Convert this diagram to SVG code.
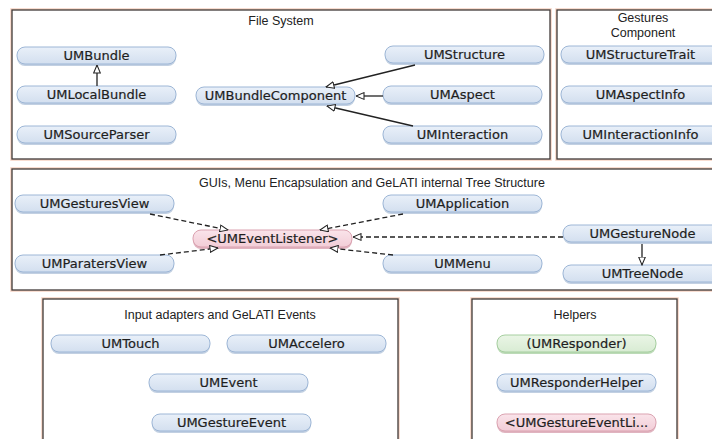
<svg xmlns="http://www.w3.org/2000/svg" width="712" height="439" viewBox="0 0 712 439">
<defs>
<linearGradient id="gb" x1="0" y1="0" x2="0" y2="1">
<stop offset="0" stop-color="#e9f0f9"/><stop offset="1" stop-color="#d3dfef"/>
</linearGradient>
<linearGradient id="gp" x1="0" y1="0" x2="0" y2="1">
<stop offset="0" stop-color="#fae4ea"/><stop offset="1" stop-color="#f2cdd7"/>
</linearGradient>
<linearGradient id="gg" x1="0" y1="0" x2="0" y2="1">
<stop offset="0" stop-color="#eaf5e6"/><stop offset="1" stop-color="#d8ecd3"/>
</linearGradient>
<marker id="tri" viewBox="0 0 10 10" refX="10" refY="5" markerWidth="9" markerHeight="8" markerUnits="userSpaceOnUse" orient="auto">
<path d="M0,0.8 L10,5 L0,9.2 z" fill="#fff" stroke="#222" stroke-width="1.3" stroke-dasharray="none"/>
</marker>
<style>
.grp-halo{fill:none;stroke:#f6d2c2;stroke-width:3.5}
.grp{fill:#fff;stroke:#3f3a38;stroke-width:1.3}
.title{font-family:"Liberation Sans",Arial,sans-serif;font-size:12.5px;fill:#222;text-anchor:middle}
.sh{fill:#c2d0e2}
.shp{fill:#e0b4c0}
.shg{fill:#bcdab7}
.nb{fill:url(#gb);stroke:#9db6d6;stroke-width:1}
.np{fill:url(#gp);stroke:#dba3b1;stroke-width:1}
.ng{fill:url(#gg);stroke:#a6cfa0;stroke-width:1}
.lbl{font-family:"DejaVu Sans",Verdana,sans-serif;font-size:13px;fill:#1e1e1e;stroke:#1e1e1e;stroke-width:0.2;text-anchor:middle}
.ln{fill:none;stroke:#222;stroke-width:1.3}
.dl{fill:none;stroke:#222;stroke-width:1.3;stroke-dasharray:5 3}
</style>
</defs>
<rect width="712" height="439" fill="#fff"/>

<g id="group-filesystem">
<rect class="grp-halo" x="12" y="10" width="538" height="149"/>
<rect class="grp" x="12" y="10" width="538" height="149"/>
<text class="title" x="281" y="25">File System</text>
</g>
<g id="group-gestures">
<rect class="grp-halo" x="557" y="10" width="175" height="149"/>
<rect class="grp" x="557" y="10" width="175" height="149"/>
<text class="title" x="643" y="22">Gestures</text>
<text class="title" x="643" y="37">Component</text>
</g>
<g id="group-guis">
<rect class="grp-halo" x="12" y="169" width="720" height="121"/>
<rect class="grp" x="12" y="169" width="720" height="121"/>
<text class="title" x="372" y="187">GUIs, Menu Encapsulation and GeLATI internal Tree Structure</text>
</g>
<g id="group-input">
<rect class="grp-halo" x="43" y="299" width="355" height="160"/>
<rect class="grp" x="43" y="299" width="355" height="160"/>
<text class="title" x="220" y="319">Input adapters and GeLATI Events</text>
</g>
<g id="group-helpers">
<rect class="grp-halo" x="472" y="299" width="205" height="160"/>
<rect class="grp" x="472" y="299" width="205" height="160"/>
<text class="title" x="575" y="319">Helpers</text>
</g>

<g id="UMBundle"><rect class="sh" x="17" y="49" width="159" height="17" rx="8"/><rect class="nb" x="17" y="47" width="159" height="17" rx="8"/><text class="lbl" x="96.5" y="60">UMBundle</text></g>
<g id="UMLocalBundle"><rect class="sh" x="17" y="88" width="159" height="17" rx="8"/><rect class="nb" x="17" y="86" width="159" height="17" rx="8"/><text class="lbl" x="96.5" y="99">UMLocalBundle</text></g>
<g id="UMSourceParser"><rect class="sh" x="17" y="128" width="159" height="17" rx="8"/><rect class="nb" x="17" y="126" width="159" height="17" rx="8"/><text class="lbl" x="96.5" y="139">UMSourceParser</text></g>
<g id="UMBundleComponent"><rect class="sh" x="196" y="89" width="159" height="17" rx="8"/><rect class="nb" x="196" y="87" width="159" height="17" rx="8"/><text class="lbl" x="275.5" y="100">UMBundleComponent</text></g>
<g id="UMStructure"><rect class="sh" x="385" y="48" width="159" height="17" rx="8"/><rect class="nb" x="385" y="46" width="159" height="17" rx="8"/><text class="lbl" x="464.5" y="59">UMStructure</text></g>
<g id="UMAspect"><rect class="sh" x="383" y="88" width="159" height="17" rx="8"/><rect class="nb" x="383" y="86" width="159" height="17" rx="8"/><text class="lbl" x="462.5" y="99">UMAspect</text></g>
<g id="UMInteraction"><rect class="sh" x="383" y="128" width="159" height="17" rx="8"/><rect class="nb" x="383" y="126" width="159" height="17" rx="8"/><text class="lbl" x="462.5" y="139">UMInteraction</text></g>
<g id="UMStructureTrait"><rect class="sh" x="561" y="48" width="159" height="17" rx="8"/><rect class="nb" x="561" y="46" width="159" height="17" rx="8"/><text class="lbl" x="640.5" y="59">UMStructureTrait</text></g>
<g id="UMAspectInfo"><rect class="sh" x="561" y="88" width="159" height="17" rx="8"/><rect class="nb" x="561" y="86" width="159" height="17" rx="8"/><text class="lbl" x="640.5" y="99">UMAspectInfo</text></g>
<g id="UMInteractionInfo"><rect class="sh" x="561" y="128" width="159" height="17" rx="8"/><rect class="nb" x="561" y="126" width="159" height="17" rx="8"/><text class="lbl" x="640.5" y="139">UMInteractionInfo</text></g>

<g id="UMGesturesView"><rect class="sh" x="15" y="197" width="159" height="17" rx="8"/><rect class="nb" x="15" y="195" width="159" height="17" rx="8"/><text class="lbl" x="94.5" y="208">UMGesturesView</text></g>
<g id="UMParatersView"><rect class="sh" x="15" y="257" width="159" height="17" rx="8"/><rect class="nb" x="15" y="255" width="159" height="17" rx="8"/><text class="lbl" x="94.5" y="268">UMParatersView</text></g>
<g id="UMEventListener"><rect class="shp" x="193" y="232" width="159" height="17" rx="8"/><rect class="np" x="193" y="230" width="159" height="17" rx="8"/><text class="lbl" x="272.5" y="243">&lt;UMEventListener&gt;</text></g>
<g id="UMApplication"><rect class="sh" x="383" y="197" width="159" height="17" rx="8"/><rect class="nb" x="383" y="195" width="159" height="17" rx="8"/><text class="lbl" x="462.5" y="208">UMApplication</text></g>
<g id="UMMenu"><rect class="sh" x="383" y="257" width="159" height="17" rx="8"/><rect class="nb" x="383" y="255" width="159" height="17" rx="8"/><text class="lbl" x="462.5" y="268">UMMenu</text></g>
<g id="UMGestureNode"><rect class="sh" x="563" y="227" width="159" height="17" rx="8"/><rect class="nb" x="563" y="225" width="159" height="17" rx="8"/><text class="lbl" x="642.5" y="238">UMGestureNode</text></g>
<g id="UMTreeNode"><rect class="sh" x="563" y="267" width="159" height="17" rx="8"/><rect class="nb" x="563" y="265" width="159" height="17" rx="8"/><text class="lbl" x="642.5" y="278">UMTreeNode</text></g>

<g id="UMTouch"><rect class="sh" x="51" y="337" width="159" height="17" rx="8"/><rect class="nb" x="51" y="335" width="159" height="17" rx="8"/><text class="lbl" x="130.5" y="348">UMTouch</text></g>
<g id="UMAccelero"><rect class="sh" x="227" y="337" width="159" height="17" rx="8"/><rect class="nb" x="227" y="335" width="159" height="17" rx="8"/><text class="lbl" x="306.5" y="348">UMAccelero</text></g>
<g id="UMEvent"><rect class="sh" x="149" y="376" width="159" height="17" rx="8"/><rect class="nb" x="149" y="374" width="159" height="17" rx="8"/><text class="lbl" x="228.5" y="387">UMEvent</text></g>
<g id="UMGestureEvent"><rect class="sh" x="152" y="416" width="159" height="17" rx="8"/><rect class="nb" x="152" y="414" width="159" height="17" rx="8"/><text class="lbl" x="231.5" y="427">UMGestureEvent</text></g>

<g id="UMResponder"><rect class="shg" x="497" y="337" width="159" height="17" rx="8"/><rect class="ng" x="497" y="335" width="159" height="17" rx="8"/><text class="lbl" x="576.5" y="348">(UMResponder)</text></g>
<g id="UMResponderHelper"><rect class="sh" x="497" y="376" width="159" height="17" rx="8"/><rect class="nb" x="497" y="374" width="159" height="17" rx="8"/><text class="lbl" x="576.5" y="387">UMResponderHelper</text></g>
<g id="UMGestureEventListener"><rect class="shp" x="497" y="416" width="159" height="17" rx="8"/><rect class="np" x="497" y="414" width="159" height="17" rx="8"/><text class="lbl" x="576.5" y="427">&lt;UMGestureEventLi...</text></g>

<g id="connectors">
<path class="ln" d="M97,86 L97,65" marker-end="url(#tri)"/>
<path class="ln" d="M415,65 L326,87" marker-end="url(#tri)"/>
<path class="ln" d="M383,96 L356,96" marker-end="url(#tri)"/>
<path class="ln" d="M413,126 L327,106" marker-end="url(#tri)"/>
<path class="dl" d="M150,214 L228,230" marker-end="url(#tri)"/>
<path class="dl" d="M160,255 L218,248" marker-end="url(#tri)"/>
<path class="dl" d="M403,214 L320,230" marker-end="url(#tri)"/>
<path class="dl" d="M393,255 L330,248" marker-end="url(#tri)"/>
<path class="dl" d="M563,237 L353,237" marker-end="url(#tri)"/>
<path class="ln" d="M642,244 L642,265" marker-end="url(#tri)"/>
</g>
</svg>
